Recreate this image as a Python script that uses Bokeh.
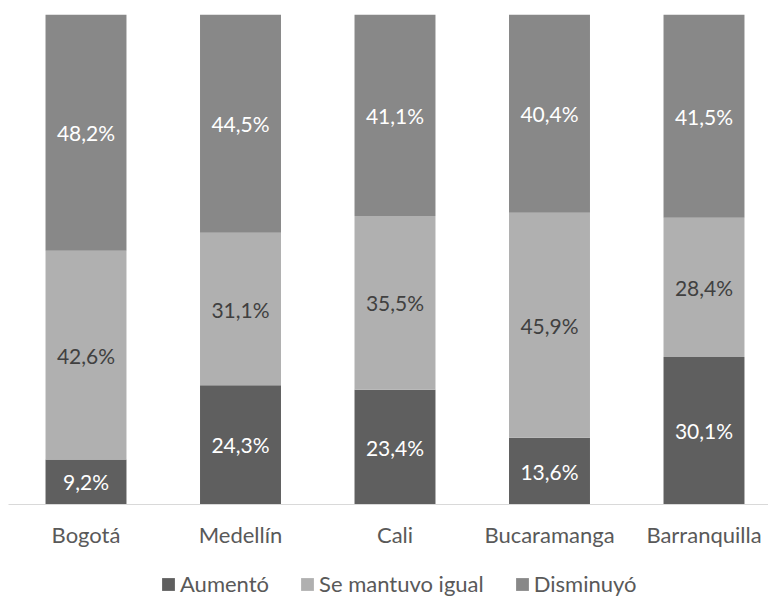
from bokeh.plotting import figure
from bokeh.models import ColumnDataSource, Range1d, FixedTicker, Legend
from bokeh.core.properties import value
from bokeh.embed import file_html
from bokeh.resources import INLINE

cities = ["Bogotá", "Medellín", "Cali", "Bucaramanga", "Barranquilla"]
aumento = [9.2, 24.3, 23.4, 13.6, 30.1]
igual = [42.6, 31.1, 35.5, 45.9, 28.4]
disminuyo = [48.2, 44.5, 41.1, 40.4, 41.5]
series_names = ["Aumentó", "Se mantuvo igual", "Disminuyó"]
colors = ["#5f5f5f", "#b0b0b0", "#888888"]
label_colors = ["#ffffff", "#404040", "#ffffff"]

FONT = "Lato"
xs = list(range(len(cities)))

# normalise each column to 100 %
totals = [a + b + c for a, b, c in zip(aumento, igual, disminuyo)]
s_a = [v / t * 100 for v, t in zip(aumento, totals)]
s_i = [v / t * 100 for v, t in zip(igual, totals)]
s_d = [v / t * 100 for v, t in zip(disminuyo, totals)]

source = ColumnDataSource(dict(x=xs, a=s_a, i=s_i, d=s_d))

p = figure(width=768, height=598, output_backend="svg", toolbar_location=None,
           x_range=Range1d(-0.5534, 4.4175), y_range=Range1d(-19.18, 100),
           min_border_left=0, min_border_right=0, min_border_top=14,
           min_border_bottom=0)
p.outline_line_color = None
p.background_fill_color = "white"
p.border_fill_color = "white"
p.grid.visible = False

renderers = p.vbar_stack(["a", "i", "d"], x="x", width=0.524, color=colors,
                         line_color=None, source=source)

# data labels
lx, ly, lt, lc = [], [], [], []
series = [aumento, igual, disminuyo]
stacked = [s_a, s_i, s_d]
for k in xs:
    base = 0.0
    for s in range(3):
        h = stacked[s][k]
        lx.append(k)
        ly.append(base + h / 2)
        lt.append(f"{series[s][k]:.1f}".replace(".", ",") + "%")
        lc.append(label_colors[s])
        base += h
lab = ColumnDataSource(dict(x=lx, y=ly, t=lt, c=lc))
p.text(x="x", y="y", text="t", source=lab, text_color="c",
       text_font=value(FONT), text_font_size="21px",
       text_align="center", text_baseline="middle")

p.yaxis.visible = False
xa = p.xaxis[0]
xa.fixed_location = 0
xa.bounds = (-0.5016, 4.4175)
xa.ticker = FixedTicker(ticks=xs)
xa.major_label_overrides = {i: c for i, c in enumerate(cities)}
xa.major_tick_line_color = None
xa.minor_tick_line_color = None
xa.major_tick_out = 0
xa.major_tick_in = 0
xa.axis_line_color = "#d9d9d9"
xa.axis_line_width = 1
xa.major_label_text_font = FONT
xa.major_label_text_font_size = "22px"
xa.major_label_text_color = "#595959"
xa.major_label_standoff = 16

lg = Legend(items=[(n, [r]) for n, r in zip(series_names, renderers)],
            location=(160, 1), orientation="horizontal")
lg.border_line_color = None
lg.background_fill_alpha = 0
lg.padding = 0
lg.margin = 0
lg.spacing = 30
lg.glyph_width = 16
lg.glyph_height = 16
lg.label_standoff = 4
lg.label_text_font = FONT
lg.label_text_font_size = "22px"
lg.label_text_color = "#595959"
p.add_layout(lg, "center")

open("out.html", "w").write(file_html(p, INLINE))
